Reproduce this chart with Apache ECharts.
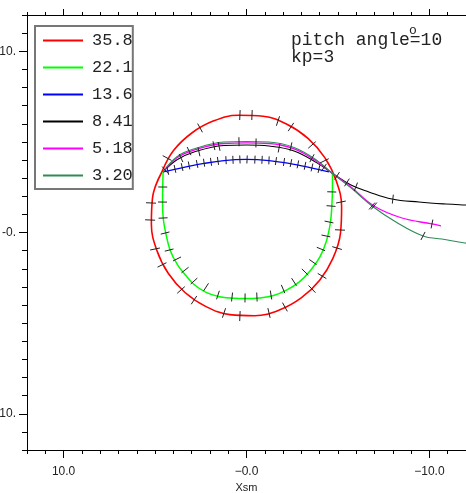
<!DOCTYPE html>
<html><head><meta charset="utf-8">
<script src="https://cdn.jsdelivr.net/npm/echarts@6/dist/echarts.min.js"></script>
<style>html,body{margin:0;padding:0;background:#fff}#c{width:466px;height:493px}</style>
</head><body><div id="c"></div>
<script>
// ---- data (Xsm, Ysm) ----
const seriesNames = ['35.8', '22.1', '13.6', '8.41', '5.18', '3.20'];

const track35_8 = [[5.20,0.46],[5.14,1.90],[4.62,3.36],[4.00,4.51],[2.99,5.49],[1.79,6.16],[0.45,6.47],[-0.91,6.41],[-2.21,5.97],[-3.36,5.19],[-4.28,4.13],[-4.91,2.84],[-5.20,1.42],[-5.14,-0.02],[-4.73,-1.41],[-4.00,-2.63],[-2.99,-3.61],[-1.79,-4.28],[-0.45,-4.59],[0.91,-4.53],[2.21,-4.09],[3.36,-3.31],[4.28,-2.25],[4.91,-0.96],[5.20,0.46],[5.14,1.90],[4.62,3.36]];
const track22_1 = [[4.56,3.34],[4.58,2.54],[4.59,1.63],[4.55,0.76],[4.42,0.0],[4.18,-0.96],[3.77,-1.79],[3.36,-2.32],[2.87,-2.87],[2.21,-3.30],[1.48,-3.54],[0.68,-3.63],[0.0,-3.64],[-0.68,-3.61],[-1.48,-3.48],[-2.21,-3.17],[-2.87,-2.74],[-3.47,-2.12],[-4.02,-1.33],[-4.37,-0.47],[-4.59,0.58],[-4.67,1.55],[-4.70,2.54],[-4.70,3.34]];
const track13_6 = [[4.56,3.34],[3.42,3.59],[2.32,3.81],[1.23,3.97],[0.03,4.03],[-1.23,3.97],[-2.32,3.81],[-3.42,3.59],[-4.51,3.34]];
const track8_41 = [[4.56,3.34],[3.80,4.01],[2.87,4.44],[1.23,4.80],[0.0,4.83],[-1.23,4.77],[-2.60,4.50],[-3.85,3.84],[-4.67,3.28],[-5.71,2.62],[-6.69,2.24],[-7.95,1.85],[-9.43,1.68],[-10.90,1.57],[-11.95,1.52],[-12.5,1.50]];
const track5_18 = [[4.56,3.34],[3.80,4.12],[2.87,4.55],[1.23,4.91],[0.0,4.94],[-1.23,4.91],[-2.60,4.61],[-3.85,3.92],[-4.67,3.28],[-5.71,2.51],[-6.97,1.46],[-8.50,0.80],[-10.14,0.47],[-10.63,0.36]];
const track3_20 = [[4.56,3.34],[3.80,4.18],[2.87,4.61],[1.23,4.99],[0.0,5.02],[-1.23,4.99],[-2.60,4.69],[-3.85,3.98],[-4.67,3.28],[-5.71,2.46],[-6.86,1.46],[-8.17,0.58],[-9.65,-0.19],[-10.68,-0.36],[-11.94,-0.58],[-12.5,-0.65]];

// time marks along each track
const marks35_8 = [[4.34,4.11],[2.54,5.77],[0.36,6.48],[-0.30,6.48],[-1.72,6.15],[-2.43,5.82],[-3.58,4.83],[-4.25,3.95],[5.22,1.63],[5.27,0.69],[5.0,-0.91],[4.62,-1.79],[3.58,-3.17],[2.87,-3.73],[1.23,-4.44],[0.36,-4.61],[-1.23,-4.44],[-2.10,-4.11],[-3.58,-3.12],[-4.13,-2.40],[-4.95,-0.86],[-5.11,0.14],[-5.16,1.68]];
const marks22_1 = [[4.58,2.51],[4.59,1.68],[4.56,0.80],[4.45,-0.03],[4.23,-0.97],[3.80,-1.46],[3.36,-2.07],[2.87,-2.68],[2.21,-3.01],[1.56,-3.45],[0.79,-3.56],[0.08,-3.61],[-0.57,-3.56],[-1.34,-3.45],[-2.0,-3.12],[-2.60,-2.73],[-3.20,-2.18],[-3.63,-1.63],[-4.07,-0.91],[-4.34,-0.19],[-4.51,0.58],[-4.62,1.46],[-4.66,2.24]];
const marks13_6 = [[4.3,3.40],[3.91,3.51],[3.52,3.61],[3.14,3.70],[2.70,3.78],[2.32,3.85],[1.94,3.90],[1.56,3.95],[1.12,3.99],[0.74,4.01],[0.36,4.03],[-0.03,4.03],[-0.46,4.02],[-0.85,4.01],[-1.23,3.98],[-1.61,3.94],[-2.05,3.89],[-2.43,3.83],[-2.81,3.76],[-3.20,3.68],[-3.58,3.59],[-3.96,3.50]];
const marks8_41 = [[4.45,3.45],[3.58,4.11],[2.60,4.45],[1.50,4.75],[-1.78,4.66],[-4.23,3.58],[-4.95,3.12],[-5.49,2.76],[-5.98,2.52],[-8.0,1.84]];
const marks5_18 = [[1.78,4.79],[-0.52,4.94],[-3.58,4.10],[-6.97,1.46],[-10.14,0.47]];
const marks3_20 = [[3.14,4.49],[0.41,5.01],[-2.43,4.73],[-6.86,1.46],[-9.65,-0.19]];

const xMajor = [-10, 0, 10];
const xMajorLabels = ['\u221210.0', '\u22120.0', '10.0'];
const yMajor = [-10, 0, 10];
const yMajorLabels = ['-10.', '-0.', '10.'];
const titleLines = ['pitch angle=10', 'kp=3'];

// ---- build ----
const tracks = [track35_8, track22_1, track13_6, track8_41, track5_18, track3_20];
const marks = [marks35_8, marks22_1, marks13_6, marks8_41, marks5_18, marks3_20];
const colors = ['#ff0000', '#00ff00', '#0000ff', '#000000', '#ff00ff', '#2e8b57'];
const widths = [1.6, 1.5, 1.3, 1.1, 1.3, 1.1];
const markLen = [10, 9, 8, 9, 9, 9];

const markData = [];
marks.forEach((arr, ci) => arr.forEach(p => markData.push([p[0], p[1], ci])));

function renderMark(params, api) {
  const ci = api.value(2);
  const p = api.coord([api.value(0), api.value(1)]);
  const pts = tracks[ci].map(q => api.coord(q));
  let best = Infinity, dx = 1, dy = 0;
  for (let i = 0; i < pts.length - 1; i++) {
    const a = pts[i], b = pts[i + 1];
    const vx = b[0] - a[0], vy = b[1] - a[1];
    const L2 = vx * vx + vy * vy || 1;
    let t = ((p[0] - a[0]) * vx + (p[1] - a[1]) * vy) / L2;
    t = Math.max(0, Math.min(1, t));
    const ex = a[0] + t * vx - p[0], ey = a[1] + t * vy - p[1];
    const d = ex * ex + ey * ey;
    if (d < best) { best = d; const l = Math.sqrt(L2); dx = vx / l; dy = vy / l; }
  }
  const h = markLen[ci] / 2, nx = -dy, ny = dx;
  return { type: 'line', shape: { x1: p[0] - nx * h, y1: p[1] - ny * h, x2: p[0] + nx * h, y2: p[1] + ny * h },
    style: { stroke: '#222', lineWidth: 1 } };
}

const xLabelFmt = v => { const i = xMajor.indexOf(v); return i >= 0 ? xMajorLabels[i] : ''; };
const yLabelFmt = v => { const i = yMajor.indexOf(v); return i >= 0 ? yMajorLabels[i] : ''; };

const baseX = { type: 'value', min: -12, max: 12, inverse: true, splitLine: { show: false } };
const baseY = { type: 'value', min: -12, max: 12, splitLine: { show: false } };
const axLine = { show: true, onZero: false, lineStyle: { color: '#000', width: 1 } };
const noLine = { show: false, onZero: false };

const option = {
  animation: false,
  backgroundColor: '#fff',
  grid: { left: 27, right: 0, top: 15, bottom: 43, containLabel: false, outerBoundsMode: 'none' },
  xAxis: [
    Object.assign({}, baseX, { position: 'bottom', interval: 1, axisLine: axLine,
      axisTick: { show: true, length: 4, lineStyle: { color: '#000' } }, axisLabel: { show: false } }),
    Object.assign({}, baseX, { position: 'bottom', axisLine: noLine,
      axisTick: { show: true, length: 8, customValues: xMajor, lineStyle: { color: '#000' } },
      axisLabel: { show: true, customValues: xMajor, formatter: xLabelFmt, margin: 16,
        fontFamily: 'Liberation Sans', fontSize: 12, color: '#222' },
      name: 'Xsm', nameLocation: 'middle', nameGap: 31,
      nameTextStyle: { fontFamily: 'Liberation Sans', fontSize: 11, color: '#222' } }),
    Object.assign({}, baseX, { position: 'top', interval: 1, axisLine: axLine,
      axisTick: { show: true, length: 3, lineStyle: { color: '#000' } }, axisLabel: { show: false } }),
    Object.assign({}, baseX, { position: 'top', axisLine: noLine,
      axisTick: { show: true, length: 6, customValues: xMajor, lineStyle: { color: '#000' } }, axisLabel: { show: false } })
  ],
  yAxis: [
    Object.assign({}, baseY, { position: 'left', interval: 1, axisLine: axLine,
      axisTick: { show: true, length: 5, lineStyle: { color: '#000' } }, axisLabel: { show: false } }),
    Object.assign({}, baseY, { position: 'left', axisLine: noLine,
      axisTick: { show: true, length: 8, customValues: yMajor, lineStyle: { color: '#000' } },
      axisLabel: { show: true, customValues: yMajor, formatter: yLabelFmt, margin: 11,
        fontFamily: 'Liberation Sans', fontSize: 12, color: '#222' } })
  ],
  legend: {
    orient: 'vertical', left: 35, top: 26, selectedMode: false,
    data: seriesNames,
    itemWidth: 40, itemHeight: 14, itemGap: 10,
    padding: [6, 0, 5, 7],
    borderColor: '#777', borderWidth: 2, borderRadius: 0,
    itemStyle: { opacity: 0, borderWidth: 0 },
    textStyle: { fontFamily: 'Liberation Mono', fontSize: 17, color: '#222', padding: [0, 0, 0, 4] }
  },
  graphic: [
    { type: 'text', left: 291, top: 31, style: { text: titleLines[0], font: '18px "Liberation Mono"', fill: '#222' } },
    { type: 'text', left: 291, top: 48, style: { text: titleLines[1], font: '18px "Liberation Mono"', fill: '#222' } },
    { type: 'text', left: 409, top: 24, style: { text: 'o', font: '13px "Liberation Mono"', fill: '#222' } }
  ],
  series: tracks.map((t, i) => ({
    type: 'line', name: seriesNames[i], data: t, xAxisIndex: 0, yAxisIndex: 0,
    symbol: 'none', smooth: 0.4, clip: true,
    lineStyle: { color: colors[i], width: widths[i] }, itemStyle: { color: colors[i] }, z: 2
  })).concat([{
    type: 'custom', data: markData, xAxisIndex: 0, yAxisIndex: 0, renderItem: renderMark,
    encode: { x: 0, y: 1 }, clip: true, z: 3, silent: true
  }])
};
echarts.init(document.getElementById('c')).setOption(option);
</script></body></html>
